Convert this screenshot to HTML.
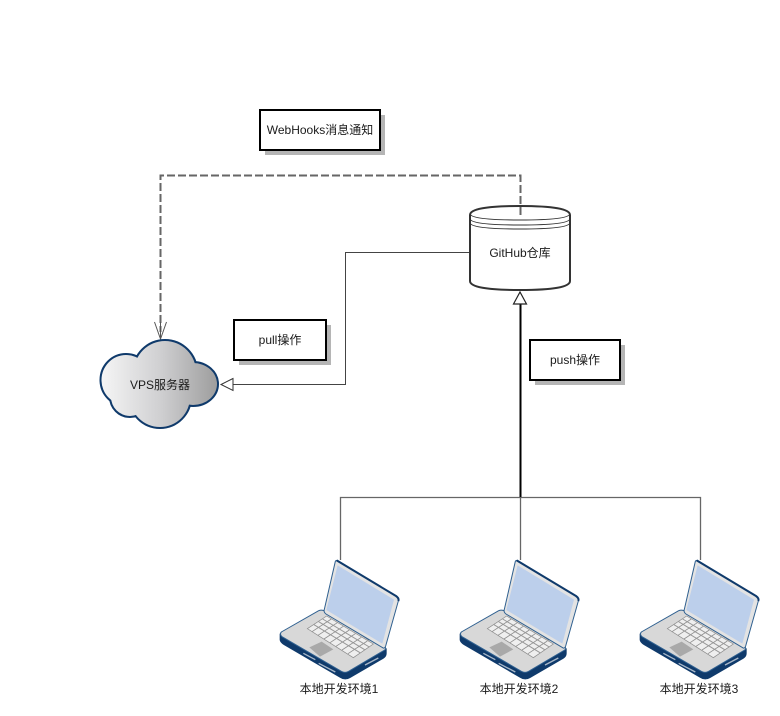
<!DOCTYPE html>
<html><head><meta charset="utf-8">
<style>
html,body{margin:0;padding:0;background:#fff;width:780px;height:716px;overflow:hidden}
svg{display:block}
text{font-family:"Liberation Sans","Noto Sans CJK SC",sans-serif;font-size:12px;fill:#1a1a1a;text-anchor:middle}
</style></head><body>
<svg width="780" height="716" viewBox="0 0 780 716" xmlns="http://www.w3.org/2000/svg">
<defs>
<linearGradient id="cg" gradientUnits="userSpaceOnUse" x1="100" x2="219" y1="0" y2="0"><stop offset="0" stop-color="#f6f6f6"/><stop offset=".5" stop-color="#d0d0d2"/><stop offset="1" stop-color="#9c9c9c"/></linearGradient>
<g id="lobes">
  <ellipse cx="126" cy="380" rx="24.500" ry="25"/>
  <circle cx="165" cy="372" r="31"/>
  <ellipse cx="193" cy="384" rx="24" ry="21"/>
  <circle cx="160" cy="397" r="30"/>
  <circle cx="130" cy="397" r="19"/>
  <circle cx="160" cy="384" r="28"/>
</g>
<g id="lap" transform="translate(270,550) scale(.33333)">
  <path d="M30 252 L30 270 Q32 278 42 284 L210 382 Q225 392 240 383 L340 325 Q349 319 349 310 L349 296 Z" fill="#0f3a6b" stroke="#0f3a6b" stroke-width="2"/>
  <path d="M100 310 L136 329 M146 340 L196 366 M285 345 L325 324" stroke="#a9b8c9" stroke-width="4" fill="none"/>
  <path d="M34 246 L146 182 Q155 178 165 183 L344 290 Q350 296 344 300 L236 364 Q225 370 214 364 L36 260 Q28 253 34 246 Z" fill="#d8d8d8" stroke="#2f6090" stroke-width="3"/>
  <path d="M112 236 L170 198 L310 282 L250 323 Z" fill="#efefef" stroke="#8a8a8a" stroke-width="2"/>
  <path d="M126 245 L184 207 M144 256 L202 218 M162 267 L220 229 M180 278 L238 240 M198 289 L256 251 M216 300 L274 262 M234 311 L292 273" stroke="#8e8e8e" stroke-width="2.500"/>
  <path d="M132 224 L270 308 M146 215 L284 299 M158 207 L298 291" stroke="#979797" stroke-width="3"/>
  <path d="M185 196 L190 193 L302 266 L297 272 Z" fill="#707070"/>
  <path d="M118 292 L155 275 L190 298 L150 320 Z" fill="#a9a9a9"/>
  <path d="M196 34 Q198 30 204 32 L378 138 Q388 145 385 153 L347 288 Q344 297 338 293 L168 192 Q160 186 163 178 Z" fill="#e3e3e3" stroke="#2f6090" stroke-width="3"/>
  <path d="M200 31 L378 138 Q388 145 385 153" fill="none" stroke="#0f3a6b" stroke-width="6"/>
  <path d="M203 46 L372 149 L337 281 L169 180 Z" fill="#bccfeb"/>
</g>
</defs>

<!-- connectors -->
<path d="M233 384.500 H345.500 V252.500 H470" fill="none" stroke="#444" stroke-width="1"/>
<path d="M233 378.500 L221 384.500 L233 390.500 Z" fill="#fff" stroke="#333" stroke-width="1"/>
<path d="M340.500 560 V497.500 H700.500 V560 M520.500 497.500 V560" fill="none" stroke="#666" stroke-width="1.300"/>
<path d="M520.500 304 V497" fill="none" stroke="#000" stroke-width="2"/>
<path d="M513.500 304 L520 292 L526.500 304 Z" fill="#fff" stroke="#222" stroke-width="1.200"/>

<!-- note boxes -->
<rect x="265" y="115" width="120" height="40" fill="#b5b5b5"/>
<rect x="260" y="110" width="120" height="40" fill="#fff" stroke="#000" stroke-width="2"/>
<text x="320" y="134">WebHooks消息通知</text>
<rect x="239" y="325" width="92" height="40" fill="#b5b5b5"/>
<rect x="234" y="320" width="92" height="40" fill="#fff" stroke="#000" stroke-width="2"/>
<text x="280" y="344">pull操作</text>
<rect x="535" y="345" width="90" height="40" fill="#b5b5b5"/>
<rect x="530" y="340" width="90" height="40" fill="#fff" stroke="#000" stroke-width="2"/>
<text x="575" y="364">push操作</text>

<!-- database -->
<path d="M470 215 Q470 206 520 206 Q570 206 570 215 V281 Q570 290 520 290 Q470 290 470 281 Z" fill="#fff" stroke="#333" stroke-width="2"/>
<path d="M470 214 Q472 220 520 220 Q568 220 570 214 M470 219 Q472 225 520 225 Q568 225 570 219 M470 223 Q472 229 520 229 Q568 229 570 223" fill="none" stroke="#333" stroke-width="1"/>
<text x="520" y="257">GitHub仓库</text>

<!-- dashed connector -->
<path d="M520.500 215 V175.500 H160.500 V332" fill="none" stroke="#666" stroke-width="2" stroke-dasharray="8 3"/>
<path d="M154.500 322 L160.500 339 L166.500 322 M160.500 322 V339" fill="none" stroke="#555" stroke-width="1"/>

<!-- cloud -->
<use href="#lobes" fill="#0f3a6b" stroke="#0f3a6b" stroke-width="4"/>
<use href="#lobes" fill="url(#cg)"/>
<text x="160" y="389">VPS服务器</text>

<!-- laptops -->
<use href="#lap"/>
<use href="#lap" x="180"/>
<use href="#lap" x="360"/>
<text x="339" y="693">本地开发环境1</text>
<text x="519" y="693">本地开发环境2</text>
<text x="699" y="693">本地开发环境3</text>
</svg>
</body></html>
